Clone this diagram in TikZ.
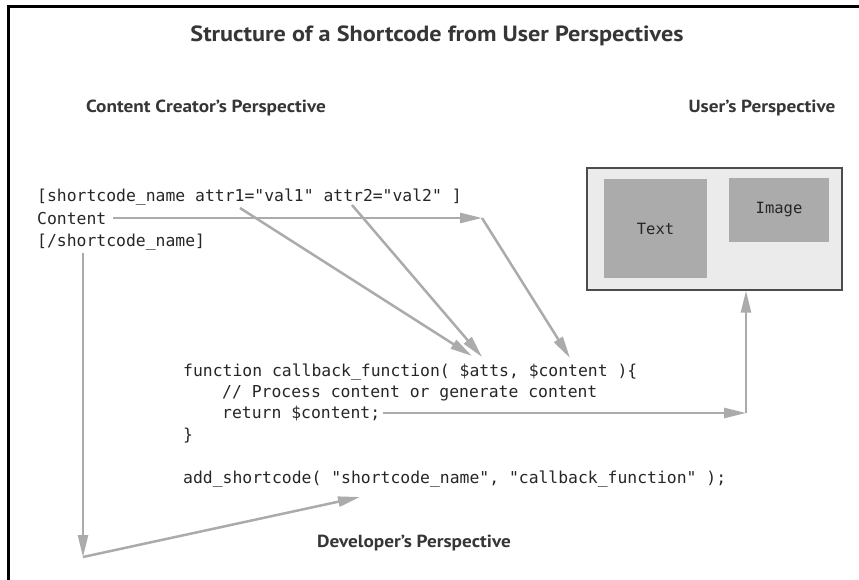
\documentclass[tikz,border=0pt]{standalone}
\usepackage{fontspec}
\usepackage{tikz}
\usetikzlibrary{arrows.meta}
\newfontfamily\headfont[FakeStretch=1.1]{PT Sans}
\newfontfamily\codefont{DejaVu Sans Mono}
\definecolor{arrgray}{HTML}{ABABAB}
\definecolor{boxgray}{HTML}{EBEBEB}
\definecolor{headgray}{HTML}{363636}

\begin{document}
\begin{tikzpicture}[x=1pt,y=-1pt,
  head/.style={font=\headfont\bfseries\fontsize{17.5}{20}\selectfont,text=headgray,inner sep=0pt},
  code/.style={font=\codefont\fontsize{16.4}{20}\selectfont,anchor=base west,inner sep=0pt,text=black!85},
  conn/.style={draw=arrgray,line width=2.5pt,-{Triangle[length=22pt,width=10pt]}},
  panel/.style={fill=arrgray,font=\codefont\fontsize{15.5}{18}\selectfont,text=black!85}]
\useasboundingbox (0,0) rectangle (859,580);
\draw[line width=3pt] (8.5,580) -- (8.5,7) -- (859,7);
\node[head,font=\headfont\bfseries\fontsize{22}{26}\selectfont] (title) at (437,36) {Structure of a Shortcode from User Perspectives};
\node[head] (hcc) at (206,108) {Content Creator’s Perspective};
\node[head] (husr) at (762,108) {User’s Perspective};
\node[head] (hdev) at (414,543) {Developer’s Perspective};
% content creator
\node[code] (sc1) at (37,202) {[shortcode\_name attr1="val1" attr2="val2" ]};
\node[code] (sc2) at (37,224) {Content};
\node[code] (sc3) at (37,246) {[/shortcode\_name]};
% developer
\node[code] (fn1) at (183,376) {function callback\_function( \$atts, \$content )\{};
\node[code] (fn2) at (222,397) {// Process content or generate content};
\node[code] (fn3) at (222,418) {return \$content;};
\node[code] (fn4) at (183,440) {\}};
\node[code] (add) at (183,483) {add\_shortcode( "shortcode\_name", "callback\_function" );};
% user
\node[draw=black!70,fill=boxgray,line width=1.3pt,minimum width=255,minimum height=122] (user) at (714.5,229) {};
\node[panel,minimum width=103,minimum height=99] (txt) at (655.5,228.5) {Text};
\node[panel,minimum width=100,minimum height=64] (img) at (779,210) {Image};
\coordinate (c0) at (113,218);
\coordinate (c1) at (482,218);
\coordinate (c2) at (570,358);
\coordinate (a1) at (240,208);
\coordinate (t1) at (472,356);
\coordinate (a2) at (352,205);
\coordinate (t2) at (482,357);
\coordinate (s0) at (83,253);
\coordinate (s1) at (83,557);
\coordinate (s2) at (360,497);
\coordinate (r0) at (383,413);
\coordinate (r1) at (746,413);
\foreach \from/\to in {c0/c1,c1/c2,a1/t1,a2/t2,s0/s1,s1/s2,r0/r1}
\draw[conn] (\from) -- (\to);
\draw[conn] (r1) -- (r1 |- user.south);
\end{tikzpicture}
\end{document}
